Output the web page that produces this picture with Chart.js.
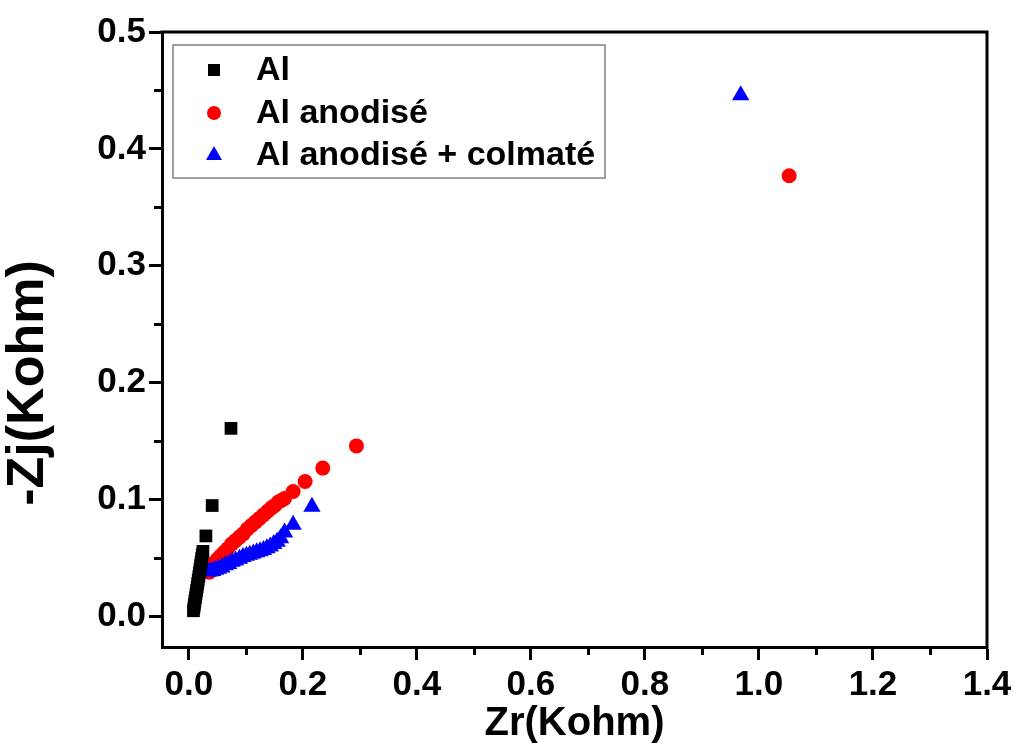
<!DOCTYPE html>
<html>
<head>
<meta charset="utf-8">
<script src="https://cdn.jsdelivr.net/npm/chart.js@4.4.0/dist/chart.umd.min.js"></script>
<style>
  html, body { margin: 0; padding: 0; background: #fff; }
  #wrap { width: 1017px; height: 754px; }
</style>
</head>
<body>
<div id="wrap"><canvas id="nyquist" width="1017" height="754"></canvas></div>
<script>
// series names (legend)
const seriesNames = ['Al', 'Al anodisé', 'Al anodisé + colmaté'];
const xTitle = 'Zr(Kohm)';
const yTitle = '-Zj(Kohm)';

// Al (black squares) - Zr / -Zj in Kohm
const alX = [0.0082, 0.0090, 0.0098, 0.0107, 0.0117, 0.0127, 0.0137, 0.0147, 0.0156, 0.0166, 0.0176, 0.0186,
             0.0196, 0.0206, 0.0216, 0.0226, 0.0237, 0.0248, 0.030, 0.041, 0.074];
const alY = [0.0050, 0.0076, 0.0104, 0.0133, 0.0163, 0.0193, 0.0223, 0.0253, 0.0283, 0.0313, 0.0343, 0.0374,
             0.0405, 0.0436, 0.0467, 0.0499, 0.0530, 0.0558, 0.069, 0.095, 0.161];

// Al anodisé (red circles)
const anoX = [0.036, 0.040, 0.045, 0.050, 0.056, 0.062, 0.068, 0.075, 0.082, 0.089, 0.096, 0.103, 0.110,
              0.117, 0.124, 0.131, 0.138, 0.145, 0.151, 0.157, 0.163, 0.168, 0.183, 0.204, 0.235, 0.294, 1.053];
const anoY = [0.038, 0.042, 0.046, 0.049, 0.052, 0.055, 0.058, 0.062, 0.065, 0.068, 0.071, 0.075, 0.078,
              0.081, 0.084, 0.087, 0.090, 0.093, 0.095, 0.098, 0.0995, 0.101, 0.107, 0.1155, 0.127, 0.146, 0.377];

// Al anodisé + colmaté (blue triangles)
const colX = [0.033, 0.037, 0.042, 0.047, 0.052, 0.058, 0.064, 0.070, 0.076, 0.082, 0.089, 0.095, 0.101,
              0.107, 0.113, 0.119, 0.125, 0.131, 0.137, 0.143, 0.149, 0.155, 0.161, 0.168, 0.183, 0.216, 0.968];
const colY = [0.0385, 0.0385, 0.039, 0.040, 0.041, 0.042, 0.044, 0.045, 0.047, 0.048, 0.0495, 0.051, 0.052,
              0.053, 0.054, 0.055, 0.056, 0.057, 0.0585, 0.060, 0.062, 0.064, 0.067, 0.072, 0.0785, 0.094, 0.446];

// minor tick values (unlabelled)
const xMinorTicks = [0.1, 0.3, 0.5, 0.7, 0.9, 1.1, 1.3];
const yMinorTicks = [0.05, 0.15, 0.25, 0.35, 0.45];

const FONT = "'Liberation Sans', Arial, sans-serif";

function toPoints(xs, ys) {
    return xs.map((x, i) => ({ x: x, y: ys[i] }));
}

// frame on top/right, short minor ticks, rotated y title
const framePlugin = {
    id: 'frame',
    afterDraw(chart) {
        const ctx = chart.ctx;
        const a = chart.chartArea;
        const xs = chart.scales.x;
        const ys = chart.scales.y;
        ctx.save();
        ctx.strokeStyle = '#000';
        ctx.lineWidth = 3;
        ctx.lineCap = 'square';
        ctx.beginPath();
        ctx.moveTo(a.left, a.top);
        ctx.lineTo(a.right, a.top);
        ctx.lineTo(a.right, a.bottom);
        ctx.stroke();
        ctx.lineCap = 'butt';
        ctx.beginPath();
        xMinorTicks.forEach(v => {
            const px = Math.round(xs.getPixelForValue(v)) + 0.5;
            ctx.moveTo(px, a.bottom);
            ctx.lineTo(px, a.bottom + 8);
        });
        yMinorTicks.forEach(v => {
            const py = Math.round(ys.getPixelForValue(v)) + 0.5;
            ctx.moveTo(a.left, py);
            ctx.lineTo(a.left - 8, py);
        });
        ctx.stroke();

        // y axis title, sits a bit below the plot centre like the original
        ctx.translate(29, 383);
        ctx.rotate(-Math.PI / 2);
        ctx.fillStyle = '#000';
        ctx.font = 'bold 52px ' + FONT;
        ctx.textAlign = 'center';
        ctx.textBaseline = 'middle';
        ctx.fillText(yTitle, 0, 0);
        ctx.restore();
    }
};

// boxed legend inside the plot
const boxLegend = {
    id: 'boxLegend',
    afterDraw(chart) {
        const ctx = chart.ctx;
        const left = 173, top = 45, w = 432, h = 133;
        const rows = [70, 113, 155];
        ctx.save();
        ctx.fillStyle = '#fff';
        ctx.fillRect(left, top, w, h);
        ctx.strokeStyle = '#808080';
        ctx.lineWidth = 1.5;
        ctx.strokeRect(left, top, w, h);
        chart.data.datasets.forEach((ds, i) => {
            const y = rows[i];
            const x = 214;
            ctx.fillStyle = ds.backgroundColor;
            ctx.beginPath();
            if (ds.pointStyle === 'rect') {
                ctx.rect(x - 6, y - 6, 12, 12);
            } else if (ds.pointStyle === 'circle') {
                ctx.arc(x, y, 7, 0, Math.PI * 2);
            } else {
                ctx.moveTo(x, y - 9);
                ctx.lineTo(x + 8, y + 5);
                ctx.lineTo(x - 8, y + 5);
                ctx.closePath();
            }
            ctx.fill();
            ctx.fillStyle = '#000';
            ctx.font = 'bold 34px ' + FONT;
            ctx.textBaseline = 'middle';
            ctx.textAlign = 'left';
            ctx.fillText(ds.label, 256, y + 1);
        });
        ctx.restore();
    }
};

const ctx = document.getElementById('nyquist').getContext('2d');

new Chart(ctx, {
    type: 'scatter',
    data: {
        datasets: [
            {
                label: seriesNames[0],
                data: toPoints(alX, alY),
                pointStyle: 'rect',
                pointRadius: 9,
                backgroundColor: '#000000',
                borderWidth: 0,
                order: 0
            },
            {
                label: seriesNames[1],
                data: toPoints(anoX, anoY),
                pointStyle: 'circle',
                pointRadius: 7.5,
                backgroundColor: '#ff0000',
                borderWidth: 0,
                order: 2
            },
            {
                label: seriesNames[2],
                data: toPoints(colX, colY),
                pointStyle: 'triangle',
                pointRadius: 10,
                backgroundColor: '#0000ff',
                borderWidth: 0,
                order: 1
            }
        ]
    },
    options: {
        responsive: false,
        animation: false,
        devicePixelRatio: 1,
        layout: { padding: { top: 32, right: 30, left: 0, bottom: 0 } },
        plugins: {
            legend: { display: false },
            tooltip: { enabled: false }
        },
        scales: {
            x: {
                type: 'linear',
                position: 'bottom',
                min: -0.047,
                max: 1.4,
                afterFit: s => { s.height = 107; },
                ticks: {
                    stepSize: 0.2,
                    includeBounds: false,
                    maxRotation: 0,
                    padding: 4,
                    color: '#000',
                    font: { family: FONT, size: 35, weight: 'bold' },
                    callback: v => v.toFixed(1)
                },
                grid: {
                    drawOnChartArea: false,
                    drawTicks: true,
                    tickLength: 13,
                    tickWidth: 3,
                    tickColor: '#000'
                },
                border: { display: true, width: 3, color: '#000' },
                title: {
                    display: true,
                    text: xTitle,
                    color: '#000',
                    font: { family: FONT, size: 40, weight: 'bold' },
                    padding: { top: 0, bottom: 6 }
                }
            },
            y: {
                type: 'linear',
                min: -0.026,
                max: 0.5,
                afterFit: s => { s.width = 162; },
                ticks: {
                    stepSize: 0.1,
                    includeBounds: false,
                    padding: 3,
                    color: '#000',
                    font: { family: FONT, size: 35, weight: 'bold' },
                    callback: v => v.toFixed(1)
                },
                grid: {
                    drawOnChartArea: false,
                    drawTicks: true,
                    tickLength: 13,
                    tickWidth: 3,
                    tickColor: '#000'
                },
                border: { display: true, width: 3, color: '#000' }
            }
        }
    },
    plugins: [framePlugin, boxLegend]
});
</script>
</body>
</html>
